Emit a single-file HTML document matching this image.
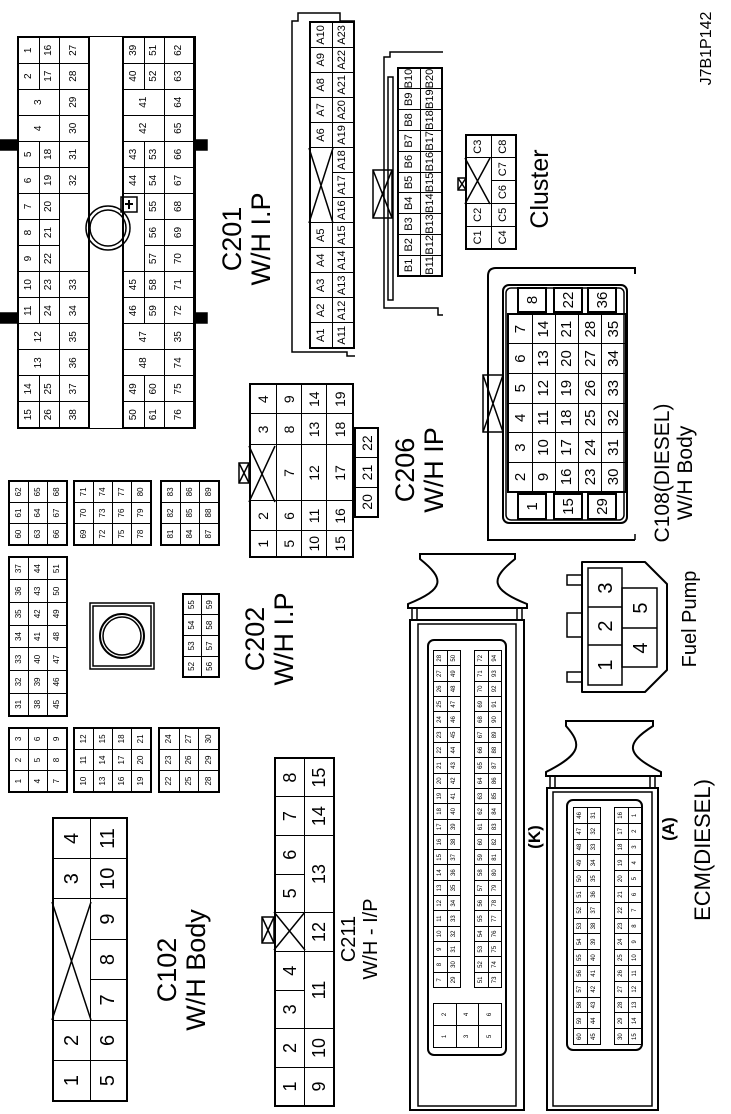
<!DOCTYPE html>
<html><head><meta charset="utf-8"><style>
html,body{margin:0;padding:0;background:#fff;width:731px;height:1114px;overflow:hidden;position:relative}
#L{position:absolute;left:0;top:0;width:1114px;height:731px;transform-origin:0 0;transform:translate(0,1114px) rotate(-90deg);font-family:"Liberation Sans",sans-serif;color:#000}
.t{position:absolute;border-collapse:collapse;table-layout:fixed;border:2px solid #000}
.t td{border:1px solid #000;text-align:center;padding:0;line-height:1;overflow:hidden;white-space:nowrap}
.t td.e{border:none}
.b{position:absolute;border:2px solid #000;box-sizing:border-box}
.l{position:absolute;text-align:center;line-height:1.08;white-space:nowrap}
svg{position:absolute;left:0;top:0}
</style></head><body>
<div id="L">
<svg width="1114" height="731" viewBox="0 0 1114 731" fill="none" stroke="#000" stroke-width="1.5">
<!-- C201 tabs -->
<rect x="964" y="0" width="10" height="17" fill="#000"/><rect x="791" y="0" width="10" height="17" fill="#000"/>
<rect x="964" y="194" width="10" height="13" fill="#000"/><rect x="791" y="194" width="10" height="13" fill="#000"/>
<circle cx="886" cy="108" r="22"/><circle cx="886" cy="108" r="18"/>
<rect x="902" y="121" width="15" height="16"/><path d="M905 129 L914 129 M910 125 L910 133" stroke-width="2"/>
<!-- A shell -->
<path d="M758 355 L758 347 L762 347 L762 292 L1093 292 L1093 298 L1101 298 L1101 340 L1093 340 L1093 355"/>
<path d="M891 309 L966 333 M966 309 L891 333"/>
<!-- B shell -->
<path d="M799 443 L799 438 L806 438 L806 384 L1057 384 L1057 390 L1062 390 L1062 443"/>
<rect x="814" y="388" width="223" height="5"/>
<rect x="896" y="373" width="48" height="19"/><path d="M896 373 L944 392 M944 373 L896 392"/>
<!-- Cluster -->
<path d="M910 465 L956 490 M956 465 L910 490"/>
<rect x="924" y="458" width="12" height="8"/><path d="M924 458 L936 466 M936 458 L924 466"/>
<!-- C206 -->
<path d="M612 249 L668 275 M668 249 L612 275"/>
<rect x="631" y="239" width="20" height="10"/><path d="M631 239 L651 249 M651 239 L631 249"/>
<!-- C108 -->
<path d="M574 635 L574 488 Q574 488 582 488 L838 488 Q846 488 846 496 L846 635 L840 635" stroke-width="2"/>
<path d="M574 635 L580 635"/>
<rect x="591" y="503" width="238" height="124" rx="6" stroke-width="2"/>
<rect x="594" y="506" width="232" height="118" rx="5"/>
<rect x="682" y="483" width="57" height="20"/><path d="M682 483 L739 503 M739 483 L682 503"/>
<!-- C202 circle -->
<rect x="445" y="90" width="66" height="64"/><rect x="448" y="93" width="60" height="58"/>
<circle cx="478" cy="122" r="22" stroke-width="2"/><circle cx="478" cy="122" r="19"/>
<!-- C102 -->
<path d="M94 52 L212 91 M212 52 L94 91"/>
<!-- C211 -->
<path d="M164 274 L202 305 M202 274 L164 305"/>
<rect x="171" y="262" width="26" height="12"/><path d="M171 262 L197 274 M197 262 L171 274"/>
<!-- ECM K -->
<rect x="4" y="410" width="490" height="114" stroke-width="2"/>
<rect x="8" y="418" width="482" height="98"/>
<rect x="59" y="428" width="415" height="78" rx="6" stroke-width="2"/>
<path d="M560 420 L560 515 L555 515 C535 490 525 490 510 527 L506 527 L506 408 L510 408 C525 445 535 445 555 420 Z" stroke-width="2"/>
<rect x="494" y="412" width="12" height="5"/><rect x="494" y="517" width="12" height="5"/>
<!-- ECM A -->
<rect x="4" y="547" width="322" height="111" stroke-width="2"/>
<rect x="8" y="553" width="314" height="99"/>
<rect x="64" y="567" width="250" height="75" rx="6" stroke-width="2"/>
<path d="M393 566 L393 653 L388 653 C370 625 360 625 342 661 L338 661 L338 546 L342 546 C360 582 370 582 388 566 Z" stroke-width="2"/>
<rect x="326" y="550" width="12" height="5"/><rect x="326" y="650" width="12" height="5"/>
<!-- Fuel pump -->
<path d="M422 582 L552 582 L552 645 L530 667 L444 667 L422 645 Z" stroke-width="2" stroke-linejoin="round"/>
<rect x="429" y="588" width="117" height="34"/><path d="M469 588 L469 622 M507 588 L507 622"/>
<rect x="447" y="622" width="79" height="35"/><path d="M486 622 L486 657"/>
<rect x="432" y="567" width="10" height="15"/><rect x="477" y="567" width="24" height="15"/><rect x="529" y="567" width="10" height="15"/>
<g fill="#000" stroke="none" font-size="20" text-anchor="middle" font-family="Liberation Sans, sans-serif">
<text x="449" y="612">1</text><text x="488" y="612">2</text><text x="526" y="612">3</text><text x="466" y="647">4</text><text x="506" y="647">5</text></g>
</svg>

<!-- C201 -->
<div class="b" style="left:685px;top:17px;width:393px;height:177px;border-width:1px"></div>
<table class="t" style="left:685px;top:17px;width:393px;height:71px;font-size:10px">
<tr style="height:21px"><td>15</td><td>14</td><td rowspan="2">13</td><td rowspan="2">12</td><td>11</td><td>10</td><td>9</td><td>8</td><td>7</td><td>6</td><td>5</td><td rowspan="2">4</td><td rowspan="2">3</td><td>2</td><td>1</td></tr>
<tr style="height:20px"><td>26</td><td>25</td><td>24</td><td>23</td><td>22</td><td>21</td><td>20</td><td>19</td><td>18</td><td>17</td><td>16</td></tr>
<tr style="height:30px"><td>38</td><td>37</td><td>36</td><td>35</td><td>34</td><td>33</td><td class="e"></td><td class="e"></td><td class="e"></td><td>32</td><td>31</td><td>30</td><td>29</td><td>28</td><td>27</td></tr>
</table>
<table class="t" style="left:685px;top:122px;width:393px;height:72px;font-size:10px">
<tr style="height:21px"><td>50</td><td>49</td><td rowspan="2">48</td><td rowspan="2">47</td><td>46</td><td>45</td><td class="e"></td><td class="e"></td><td class="e"></td><td>44</td><td>43</td><td rowspan="2">42</td><td rowspan="2">41</td><td>40</td><td>39</td></tr>
<tr style="height:20px"><td>61</td><td>60</td><td>59</td><td>58</td><td>57</td><td>56</td><td>55</td><td>54</td><td>53</td><td>52</td><td>51</td></tr>
<tr style="height:31px"><td>76</td><td>75</td><td>74</td><td>35</td><td>72</td><td>71</td><td>70</td><td>69</td><td>68</td><td>67</td><td>66</td><td>65</td><td>64</td><td>63</td><td>62</td></tr>
</table>
<div class="l" style="left:805px;top:218px;width:140px;font-size:27px">C201<br>W/H I.P</div>

<!-- A connector -->
<table class="t" style="left:765px;top:309px;width:328px;height:46px;font-size:11px">
<tr><td>A1</td><td>A2</td><td>A3</td><td>A4</td><td>A5</td><td colspan="3"></td><td>A6</td><td>A7</td><td>A8</td><td>A9</td><td>A10</td></tr>
<tr><td>A11</td><td>A12</td><td>A13</td><td>A14</td><td>A15</td><td>A16</td><td>A17</td><td>A18</td><td>A19</td><td>A20</td><td>A21</td><td>A22</td><td>A23</td></tr>
</table>
<!-- B connector -->
<table class="t" style="left:837px;top:397px;width:210px;height:46px;font-size:11px">
<tr><td>B1</td><td>B2</td><td>B3</td><td>B4</td><td>B5</td><td>B6</td><td>B7</td><td>B8</td><td>B9</td><td>B10</td></tr>
<tr><td>B11</td><td>B12</td><td>B13</td><td>B14</td><td>B15</td><td>B16</td><td>B17</td><td>B18</td><td>B19</td><td>B20</td></tr>
</table>
<!-- Cluster -->
<table class="t" style="left:864px;top:465px;width:116px;height:52px;font-size:11px">
<tr><td>C1</td><td>C2</td><td colspan="2"></td><td>C3</td></tr>
<tr><td>C4</td><td>C5</td><td>C6</td><td>C7</td><td>C8</td></tr>
</table>
<div class="l" style="left:870px;top:527px;width:110px;font-size:25px">Cluster</div>

<!-- C108 -->
<table class="t" style="left:621px;top:507px;width:180px;height:120px;font-size:15px">
<tr><td>2</td><td>3</td><td>4</td><td>5</td><td>6</td><td>7</td></tr>
<tr><td>9</td><td>10</td><td>11</td><td>12</td><td>13</td><td>14</td></tr>
<tr><td>16</td><td>17</td><td>18</td><td>19</td><td>20</td><td>21</td></tr>
<tr><td>23</td><td>24</td><td>25</td><td>26</td><td>27</td><td>28</td></tr>
<tr><td>30</td><td>31</td><td>32</td><td>33</td><td>34</td><td>35</td></tr>
</table>
<table class="t" style="left:594px;top:517px;width:27px;height:30px;font-size:15px"><tr><td>1</td></tr></table>
<table class="t" style="left:594px;top:553px;width:27px;height:30px;font-size:15px"><tr><td>15</td></tr></table>
<table class="t" style="left:594px;top:587px;width:27px;height:30px;font-size:15px"><tr><td>29</td></tr></table>
<table class="t" style="left:801px;top:517px;width:26px;height:30px;font-size:15px"><tr><td>8</td></tr></table>
<table class="t" style="left:801px;top:553px;width:26px;height:30px;font-size:15px"><tr><td>22</td></tr></table>
<table class="t" style="left:801px;top:587px;width:26px;height:30px;font-size:15px"><tr><td>36</td></tr></table>
<div class="l" style="left:556px;top:652px;width:170px;font-size:21px">C108(DIESEL)<br>W/H Body</div>

<!-- C206 -->
<table class="t" style="left:556px;top:249px;width:173px;height:105px;font-size:14px">
<colgroup><col style="width:26px"><col style="width:30px"><col style="width:56px"><col style="width:31px"><col style="width:30px"></colgroup>
<tr><td>1</td><td>2</td><td></td><td>3</td><td>4</td></tr>
<tr><td>5</td><td>6</td><td>7</td><td>8</td><td>9</td></tr>
<tr><td>10</td><td>11</td><td>12</td><td>13</td><td>14</td></tr>
<tr><td>15</td><td>16</td><td>17</td><td>18</td><td>19</td></tr>
</table>
<table class="t" style="left:596px;top:354px;width:91px;height:25px;font-size:14px"><tr><td>20</td><td>21</td><td>22</td></tr></table>
<div class="l" style="left:584px;top:391px;width:120px;font-size:27px">C206<br>W/H IP</div>

<!-- C202 blocks -->
<table class="t" style="left:568px;top:8px;width:66px;height:60px;font-size:8px"><tr><td>60</td><td>61</td><td>62</td></tr><tr><td>63</td><td>64</td><td>65</td></tr><tr><td>66</td><td>67</td><td>68</td></tr></table>
<table class="t" style="left:568px;top:73px;width:66px;height:79px;font-size:8px"><tr><td>69</td><td>70</td><td>71</td></tr><tr><td>72</td><td>73</td><td>74</td></tr><tr><td>75</td><td>76</td><td>77</td></tr><tr><td>78</td><td>79</td><td>80</td></tr></table>
<table class="t" style="left:568px;top:160px;width:66px;height:60px;font-size:8px"><tr><td>81</td><td>82</td><td>83</td></tr><tr><td>84</td><td>85</td><td>86</td></tr><tr><td>87</td><td>88</td><td>89</td></tr></table>
<table class="t" style="left:397px;top:8px;width:161px;height:60px;font-size:8px"><tr><td>31</td><td>32</td><td>33</td><td>34</td><td>35</td><td>36</td><td>37</td></tr><tr><td>38</td><td>39</td><td>40</td><td>41</td><td>42</td><td>43</td><td>44</td></tr><tr><td>45</td><td>46</td><td>47</td><td>48</td><td>49</td><td>50</td><td>51</td></tr></table>
<table class="t" style="left:436px;top:182px;width:85px;height:38px;font-size:8px"><tr><td>52</td><td>53</td><td>54</td><td>55</td></tr><tr><td>56</td><td>57</td><td>58</td><td>59</td></tr></table>
<table class="t" style="left:321px;top:8px;width:66px;height:60px;font-size:8px"><tr><td>1</td><td>2</td><td>3</td></tr><tr><td>4</td><td>5</td><td>6</td></tr><tr><td>7</td><td>8</td><td>9</td></tr></table>
<table class="t" style="left:321px;top:73px;width:66px;height:79px;font-size:8px"><tr><td>10</td><td>11</td><td>12</td></tr><tr><td>13</td><td>14</td><td>15</td></tr><tr><td>16</td><td>17</td><td>18</td></tr><tr><td>19</td><td>20</td><td>21</td></tr></table>
<table class="t" style="left:321px;top:158px;width:66px;height:62px;font-size:8px"><tr><td>22</td><td>23</td><td>24</td></tr><tr><td>25</td><td>26</td><td>27</td></tr><tr><td>28</td><td>29</td><td>30</td></tr></table>
<div class="l" style="left:410px;top:241px;width:130px;font-size:27px">C202<br>W/H I.P</div>

<!-- C102 -->
<table class="t" style="left:12px;top:52px;width:285px;height:76px;font-size:20px">
<tr><td>1</td><td>2</td><td colspan="3"></td><td>3</td><td>4</td></tr>
<tr><td>5</td><td>6</td><td>7</td><td>8</td><td>9</td><td>10</td><td>11</td></tr>
</table>
<div class="l" style="left:74px;top:153px;width:140px;font-size:27px">C102<br>W/H Body</div>

<!-- C211 -->
<table class="t" style="left:7px;top:274px;width:350px;height:61px;font-size:18px">
<tr><td>1</td><td>2</td><td>3</td><td>4</td><td></td><td>5</td><td>6</td><td>7</td><td>8</td></tr>
<tr><td>9</td><td>10</td><td colspan="2">11</td><td>12</td><td colspan="2">13</td><td>14</td><td>15</td></tr>
</table>
<div class="l" style="left:125px;top:339px;width:100px;font-size:20px">C211<br>W/H - I/P</div>

<!-- ECM K pins -->
<table class="t" style="left:126px;top:433px;width:338px;height:28px;font-size:6px;border-width:1px">
<tr><td>7</td><td>8</td><td>9</td><td>10</td><td>11</td><td>12</td><td>13</td><td>14</td><td>15</td><td>16</td><td>17</td><td>18</td><td>19</td><td>20</td><td>21</td><td>22</td><td>23</td><td>24</td><td>25</td><td>26</td><td>27</td><td>28</td></tr>
<tr><td>29</td><td>30</td><td>31</td><td>32</td><td>33</td><td>34</td><td>35</td><td>36</td><td>37</td><td>38</td><td>39</td><td>40</td><td>41</td><td>42</td><td>43</td><td>44</td><td>45</td><td>46</td><td>47</td><td>48</td><td>49</td><td>50</td></tr>
</table>
<table class="t" style="left:126px;top:474px;width:338px;height:28px;font-size:6px;border-width:1px">
<tr><td>51</td><td>52</td><td>53</td><td>54</td><td>55</td><td>56</td><td>57</td><td>58</td><td>59</td><td>60</td><td>61</td><td>62</td><td>63</td><td>64</td><td>65</td><td>66</td><td>67</td><td>68</td><td>69</td><td>70</td><td>71</td><td>72</td></tr>
<tr><td>73</td><td>74</td><td>75</td><td>76</td><td>77</td><td>78</td><td>79</td><td>80</td><td>81</td><td>82</td><td>83</td><td>84</td><td>85</td><td>86</td><td>87</td><td>88</td><td>89</td><td>90</td><td>91</td><td>92</td><td>93</td><td>94</td></tr>
</table>
<table class="t" style="left:66px;top:433px;width:45px;height:69px;font-size:6px;border-width:1px">
<tr><td>1</td><td>2</td></tr><tr><td>3</td><td>4</td></tr><tr><td>5</td><td>6</td></tr></table>
<!-- ECM A pins -->
<table class="t" style="left:69px;top:573px;width:238px;height:28px;font-size:6px;border-width:1px">
<tr><td>60</td><td>59</td><td>58</td><td>57</td><td>56</td><td>55</td><td>54</td><td>53</td><td>52</td><td>51</td><td>50</td><td>49</td><td>48</td><td>47</td><td>46</td></tr>
<tr><td>45</td><td>44</td><td>43</td><td>42</td><td>41</td><td>40</td><td>39</td><td>38</td><td>37</td><td>36</td><td>35</td><td>34</td><td>33</td><td>32</td><td>31</td></tr>
</table>
<table class="t" style="left:69px;top:614px;width:238px;height:28px;font-size:6px;border-width:1px">
<tr><td>30</td><td>29</td><td>28</td><td>27</td><td>26</td><td>25</td><td>24</td><td>23</td><td>22</td><td>21</td><td>20</td><td>19</td><td>18</td><td>17</td><td>16</td></tr>
<tr><td>15</td><td>14</td><td>13</td><td>12</td><td>11</td><td>10</td><td>9</td><td>8</td><td>7</td><td>6</td><td>5</td><td>4</td><td>3</td><td>2</td><td>1</td></tr>
</table>
<div class="l" style="left:257px;top:526px;width:40px;font-size:17px;font-weight:bold">(K)</div>
<div class="l" style="left:265px;top:660px;width:40px;font-size:17px;font-weight:bold">(A)</div>
<div class="l" style="left:184px;top:691px;width:160px;font-size:22px">ECM(DIESEL)</div>
<div class="l" style="left:440px;top:680px;width:110px;font-size:20px">Fuel Pump</div>
<div class="l" style="left:1018px;top:698px;width:95px;font-size:16px">J7B1P142</div>
</div>
</body></html>
